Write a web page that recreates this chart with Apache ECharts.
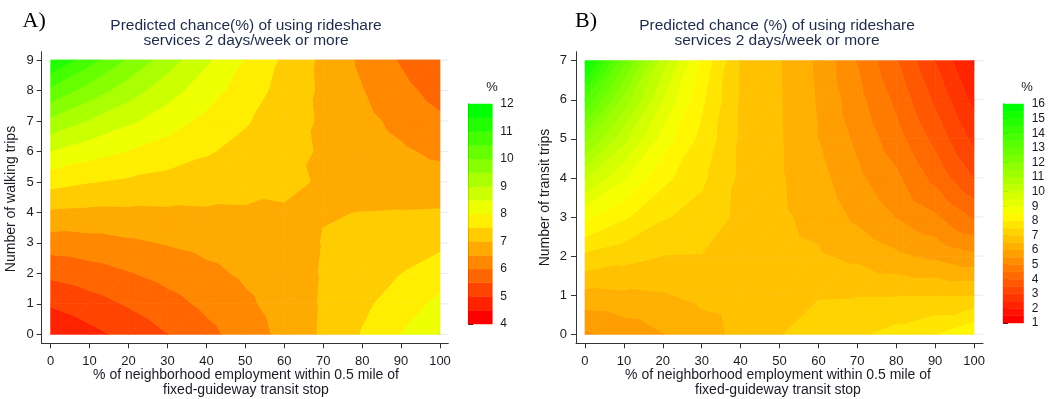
<!DOCTYPE html>
<html><head><meta charset="utf-8">
<script src="https://cdn.jsdelivr.net/npm/echarts@6/dist/echarts.min.js"></script>
<style>html,body{margin:0;padding:0;background:#fff}#c{width:1048px;height:399px}</style>
</head><body><div id="c"></div>
<script>
// ---- data ----
const xTicks = [0,10,20,30,40,50,60,70,80,90,100];
const yTicksA = [0,1,2,3,4,5,6,7,8,9];
const yTicksB = [0,1,2,3,4,5,6,7];
const xGrid = [0,10,20,30,40,50,60,70,80,90,100];
const yGridA = [0,1,2,3,4,5,6,7,8,9];
const yGridB = [0,1,2,3,4,5,6,7];
// predicted chance (%) ; one row per y value, columns follow xGrid
const zA = [
  [4.55, 4.85, 5.16, 5.49, 5.85, 6.23, 6.64, 7.07, 7.53, 8.01, 8.53],
  [5.05, 5.29, 5.55, 5.82, 6.11, 6.40, 6.72, 7.05, 7.39, 7.75, 8.13],
  [5.62, 5.78, 5.97, 6.17, 6.37, 6.58, 6.80, 7.03, 7.26, 7.50, 7.75],
  [6.24, 6.31, 6.42, 6.53, 6.65, 6.77, 6.88, 7.01, 7.13, 7.26, 7.39],
  [6.93, 6.89, 6.90, 6.92, 6.94, 6.95, 6.97, 6.99, 7.003, 7.02, 7.04],
  [7.67, 7.52, 7.42, 7.33, 7.24, 7.15, 7.06, 6.97, 6.88, 6.79, 6.71],
  [8.49, 8.21, 7.98, 7.76, 7.55, 7.34, 7.14, 6.95, 6.76, 6.57, 6.39],
  [9.39, 8.96, 8.59, 8.23, 7.88, 7.55, 7.23, 6.93, 6.64, 6.36, 6.09],
  [10.39, 9.79, 9.23, 8.71, 8.22, 7.76, 7.32, 6.91, 6.52, 6.15, 5.80],
  [11.50, 10.68, 9.93, 9.23, 8.58, 7.97, 7.41, 6.89, 6.40, 5.95, 5.53]
];
const zB = [
  [5.42, 5.69, 5.98, 6.29, 6.63, 6.98, 7.20, 7.41, 7.68, 7.97, 8.45],
  [6.33, 6.40, 6.46, 6.62, 6.70, 6.80, 6.97, 6.98, 6.98, 6.99, 6.995],
  [7.40, 7.19, 6.99, 6.98, 6.80, 6.65, 6.56, 6.38, 6.10, 5.88, 5.60],
  [8.64, 8.08, 7.55, 7.30, 6.88, 6.58, 6.35, 5.89, 5.48, 5.07, 4.42],
  [10.05, 9.06, 8.15, 7.60, 6.90, 6.56, 6.18, 5.61, 5.11, 4.34, 3.48],
  [11.68, 10.15, 8.80, 7.85, 6.92, 6.55, 6.00, 5.39, 4.70, 3.85, 2.85],
  [13.52, 11.35, 9.49, 8.10, 6.93, 6.54, 5.95, 5.18, 4.38, 3.40, 2.35],
  [15.60, 12.68, 10.23, 8.40, 6.95, 6.53, 5.90, 4.98, 4.05, 3.00, 1.90]
];
const cutsA = [4,4.5,5,5.5,6,6.5,7,7.5,8,8.5,9,9.5,10,10.5,11,11.5,12];
const cutsB = [1,1.5,2,2.5,3,3.5,4,4.5,5,5.5,6,6.5,7,7.5,8,8.5,9,9.5,10,10.5,11,11.5,12,12.5,13,13.5,14,14.5,15,15.5,16];

// ---- helpers ----
function hueColor(h){
  let r,g;
  if(h<=60){ r=255; g=Math.round(255*h/60); } else { r=Math.round(255*(120-h)/60); g=255; }
  return 'rgb('+r+','+g+',0)';
}
function bandColors(cuts){
  const n=cuts.length-1, out=[];
  for(let k=0;k<n;k++) out.push(hueColor(120*k/(n-1)));
  return out;
}
const colA = bandColors(cutsA), colB = bandColors(cutsB);

function clipPoly(poly,t,above){
  const out=[]; const n=poly.length;
  for(let i=0;i<n;i++){
    const a=poly[i], b=poly[(i+1)%n];
    const ina = above ? a[2]>=t : a[2]<=t;
    const inb = above ? b[2]>=t : b[2]<=t;
    if(ina) out.push(a);
    if(ina!==inb){
      const f=(t-a[2])/(b[2]-a[2]);
      out.push([a[0]+f*(b[0]-a[0]), a[1]+f*(b[1]-a[1]), t]);
    }
  }
  return out;
}
function contourSeries(gi,xs,ys,z,cuts,cols){
  const cells=[];
  for(let j=0;j<ys.length-1;j++) for(let i=0;i<xs.length-1;i++) cells.push([i,j]);
  return {
    type:'custom', xAxisIndex:gi, yAxisIndex:gi, data:cells, silent:true, z:2,
    renderItem:function(params,api){
      const i=api.value(0), j=api.value(1);
      const P=(a,b)=>{const c=api.coord([xs[a],ys[b]]); return [c[0],c[1],z[b][a]];};
      const p00=P(i,j), p10=P(i+1,j), p11=P(i+1,j+1), p01=P(i,j+1);
      const tris=[[p00,p10,p11],[p00,p11,p01]];
      const children=[];
      tris.forEach(tri=>{
        for(let k=0;k<cuts.length-1;k++){
          const lo = k===0 ? -Infinity : cuts[k];
          const hi = k===cuts.length-2 ? Infinity : cuts[k+1];
          let poly=clipPoly(tri,lo,true);
          if(poly.length<3) continue;
          poly=clipPoly(poly,hi,false);
          if(poly.length<3) continue;
          children.push({type:'polygon',shape:{points:poly.map(p=>[p[0],p[1]])},
            style:{fill:cols[k],stroke:cols[k],lineWidth:0.7}});
        }
      });
      return {type:'group',children:children};
    }
  };
}
function gridLineSeries(gi,ticks,xmin,xmax){
  return {
    type:'custom', xAxisIndex:gi, yAxisIndex:gi, data:ticks.map(t=>[t]), silent:true, z:1,
    renderItem:function(params,api){
      const y=api.value(0);
      const a=api.coord([xmin,y]), b=api.coord([xmax,y]);
      return {type:'line',shape:{x1:a[0],y1:a[1],x2:b[0],y2:b[1]},style:{stroke:'#e3ebf0',lineWidth:1}};
    }
  };
}
function barSeries(gi,cuts,cols){
  return {
    type:'custom', xAxisIndex:gi, yAxisIndex:gi, silent:true,
    data:cuts.slice(0,-1).map((c,k)=>[c,cuts[k+1],k]),
    renderItem:function(params,api){
      const lo=api.value(0), hi=api.value(1), k=api.value(2);
      const a=api.coord([0,hi]), b=api.coord([1,lo]);
      return {type:'rect',shape:{x:a[0],y:a[1],width:b[0]-a[0],height:b[1]-a[1]},
        style:{fill:cols[k],stroke:cols[k],lineWidth:0.5}};
    }
  };
}

const FONT='"Liberation Sans", Arial, sans-serif';
const TXT='#1b1b24', TTL='#1e2a47', AX='#333';
function mainX(gi,min,max){
  return {gridIndex:gi,type:'value',min:min,max:max,
    axisLine:{show:true,onZero:false,lineStyle:{color:AX,width:1}},
    axisTick:{show:true,customValues:xTicks,length:5,lineStyle:{color:AX}},
    axisLabel:{customValues:xTicks,fontSize:13,fontFamily:FONT,color:TXT,margin:12},
    splitLine:{show:false}};
}
function mainY(gi,min,max,ticks,margin){
  return {gridIndex:gi,type:'value',min:min,max:max,
    axisLine:{show:true,onZero:false,lineStyle:{color:AX,width:1}},
    axisTick:{show:true,customValues:ticks,length:5,lineStyle:{color:AX}},
    axisLabel:{customValues:ticks,fontSize:13,fontFamily:FONT,color:TXT,margin:margin},
    splitLine:{show:false}};
}
function cbX(gi){ return {gridIndex:gi,type:'value',min:0,max:1,show:false}; }
function cbY(gi,min,max){
  return {gridIndex:gi,type:'value',position:'right',min:min,max:max,interval:1,
    axisLine:{show:true,lineStyle:{color:'#222',width:1}},
    axisTick:{show:true,length:5,lineStyle:{color:'#222'}},
    axisLabel:{fontSize:12,fontFamily:FONT,color:TXT,margin:8},
    splitLine:{show:false}};
}
function txt(x,y,s,size,color,opts){
  return Object.assign({type:'text',x:x,y:y,silent:true,
    style:{text:s,fill:color,font:size+'px '+FONT,textAlign:'center',textVerticalAlign:'middle'}},opts||{});
}

const chart=echarts.init(document.getElementById('c'),null,{renderer:'canvas'});
chart.setOption({
  animation:false,
  backgroundColor:'#fff',
  grid:[
    {left:41.7,top:51.7,width:406.6,height:291.6},
    {left:576,top:51.7,width:407,height:291.6},
    {left:468.3,top:104,width:24,height:220},
    {left:1003,top:104,width:23.5,height:219}
  ],
  xAxis:[mainX(0,-2.304,102.13),mainX(1,-2.31,102.31),cbX(2),cbX(3)],
  yAxis:[mainY(0,-0.294,9.272,yTicksA,8),mainY(1,-0.23,7.23,yTicksB,9),cbY(2,4,12),cbY(3,1,16)],
  series:[
    gridLineSeries(0,yTicksA,0,102.13),
    contourSeries(0,xGrid,yGridA,zA,cutsA,colA),
    gridLineSeries(1,yTicksB,0,102.31),
    contourSeries(1,xGrid,yGridB,zB,cutsB,colB),
    barSeries(2,cutsA,colA),
    barSeries(3,cutsB,colB)
  ],
  graphic:[
    {type:'text',x:22.5,y:21,silent:true,style:{text:'A)',fill:'#000',font:'22px "Liberation Serif", "Times New Roman", serif',textAlign:'left',textVerticalAlign:'middle'}},
    {type:'text',x:575,y:21,silent:true,style:{text:'B)',fill:'#000',font:'22px "Liberation Serif", "Times New Roman", serif',textAlign:'left',textVerticalAlign:'middle'}},
    txt(246,25.3,'Predicted chance(%) of using rideshare',15.5,TTL),
    txt(246,41,'services 2 days/week or more',15.5,TTL),
    txt(777,25.3,'Predicted chance (%) of using rideshare',15.5,TTL),
    txt(777,41,'services 2 days/week or more',15.5,TTL),
    txt(246,375.5,'% of neighborhood employment within 0.5 mile of',14,TXT),
    txt(246,390.5,'fixed-guideway transit stop',14,TXT),
    txt(778,375.5,'% of neighborhood employment within 0.5 mile of',14,TXT),
    txt(778,390.5,'fixed-guideway transit stop',14,TXT),
    txt(11.5,199,'Number of walking trips',14,TXT,{rotation:Math.PI/2}),
    txt(545,197.5,'Number of transit trips',14,TXT,{rotation:Math.PI/2}),
    txt(492,87,'%',13,TXT),
    txt(1027,87,'%',13,TXT)
  ]
});
</script></body></html>
